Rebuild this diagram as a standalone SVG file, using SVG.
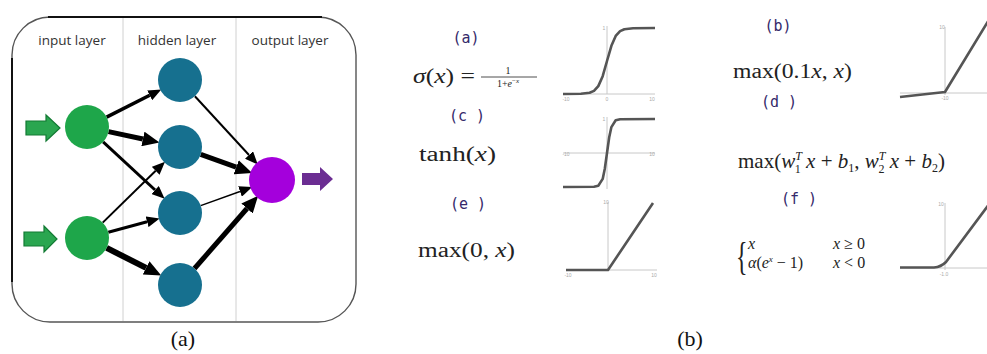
<svg xmlns="http://www.w3.org/2000/svg" width="987" height="354" viewBox="0 0 987 354">
<style>
.hdr{font-family:"Open Sans","Liberation Sans",sans-serif;font-size:13.5px;fill:#333;text-anchor:middle}
.cap{font-family:"Liberation Serif","DejaVu Serif",serif;font-size:22px;fill:#111;text-anchor:middle}
.lbl{font-family:"DejaVu Sans Mono","Liberation Mono",monospace;font-size:15px;fill:#35296a;text-anchor:middle}
.fm{font-family:"Liberation Serif","DejaVu Serif",serif;font-size:20px;fill:#222}
.it{font-style:italic}
.tk{font-family:"Liberation Sans",sans-serif;font-size:5px;fill:#aaa;text-anchor:middle}
.ax{stroke:#c8c8c8;stroke-width:1;fill:none}
.cv{stroke:#555;stroke-width:2.6;fill:none;stroke-linejoin:round}
.sep{stroke:#d0d0d0;stroke-width:1}
.e{stroke:#000;fill:none;stroke-linecap:butt}
.in{fill:#1ea64a}
.hd{fill:#16708f}
.out{fill:#a400dc}
</style>
<defs>
<marker id="ah" markerUnits="userSpaceOnUse" markerWidth="13" markerHeight="11" refX="0" refY="5.5" orient="auto"><path d="M0,0 L13,5.5 L0,11 z" fill="#000"/></marker>
<marker id="ahb" markerUnits="userSpaceOnUse" markerWidth="17" markerHeight="15" refX="0" refY="7.5" orient="auto"><path d="M0,0 L17,7.5 L0,15 z" fill="#000"/></marker>
</defs>
<rect width="987" height="354" fill="#fff"/>

<g id="panel-a">
<rect x="12" y="17" width="344" height="305" rx="38" fill="#fff" stroke="#555" stroke-width="1.4"/>
<line x1="48" y1="17" x2="322" y2="17" stroke="#111" stroke-width="2.2"/>
<line x1="12" y1="58" x2="12" y2="282" stroke="#111" stroke-width="2"/>
<line class="sep" x1="123" y1="18" x2="123" y2="321"/>
<line class="sep" x1="236" y1="18" x2="236" y2="321"/>
<text class="hdr" x="72" y="45">input layer</text>
<text class="hdr" x="177" y="45">hidden layer</text>
<text class="hdr" x="290" y="45">output layer</text>
</g>

<g id="connectors">
<line class="e" x1="106.6" y1="117.1" x2="149.7" y2="95.3" stroke-width="3.5" marker-end="url(#ah)"/>
<line class="e" x1="108.5" y1="131.6" x2="142.9" y2="139.0" stroke-width="5" marker-end="url(#ahb)"/>
<line class="e" x1="103.1" y1="141.9" x2="155.1" y2="190.0" stroke-width="3" marker-end="url(#ah)"/>
<line class="e" x1="102.7" y1="222.6" x2="155.7" y2="170.8" stroke-width="2" marker-end="url(#ah)"/>
<line class="e" x1="108.3" y1="232.3" x2="147.1" y2="221.8" stroke-width="3" marker-end="url(#ah)"/>
<line class="e" x1="106.6" y1="247.9" x2="146.1" y2="267.9" stroke-width="6" marker-end="url(#ahb)"/>
<line class="e" x1="194.9" y1="96.2" x2="249.0" y2="155.0" stroke-width="2" marker-end="url(#ah)"/>
<line class="e" x1="200.7" y1="154.4" x2="236.2" y2="167.2" stroke-width="5" marker-end="url(#ahb)"/>
<line class="e" x1="200.7" y1="205.6" x2="240.0" y2="191.5" stroke-width="1.5" marker-end="url(#ah)"/>
<line class="e" x1="194.5" y1="268.5" x2="247.0" y2="208.5" stroke-width="5" marker-end="url(#ahb)"/>
<polygon points="26,121 46,121 46,115 60,128 46,141 46,135 26,135" fill="#2aa650" stroke="#127a33" stroke-width="1.2"/>
<polygon points="24,232 44,232 44,226 57,239 44,252 44,246 24,246" fill="#2aa650" stroke="#127a33" stroke-width="1.2"/>
<polygon points="302,173 320,173 320,167 333,179 320,191 320,185 302,185" fill="#6b2d92"/>
</g>

<g id="node-in1"><circle class="in" cx="87" cy="127" r="22"/></g>
<g id="node-in2"><circle class="in" cx="87" cy="238" r="22"/></g>
<g id="node-h1"><circle class="hd" cx="180" cy="80" r="22"/></g>
<g id="node-h2"><circle class="hd" cx="180" cy="147" r="22"/></g>
<g id="node-h3"><circle class="hd" cx="180" cy="213" r="22"/></g>
<g id="node-h4"><circle class="hd" cx="180" cy="285" r="22"/></g>
<g id="node-out"><circle class="out" cx="272" cy="180" r="23"/></g>

<text class="cap" x="183" y="346">(a)</text>
<text class="cap" x="690" y="346">(b)</text>

<g id="sigmoid">
<text class="lbl" x="466" y="43">(a)</text>
<text class="fm" x="413" y="83" textLength="62" lengthAdjust="spacingAndGlyphs"><tspan class="it">σ</tspan>(<tspan class="it">x</tspan>) =</text>
<text class="fm" x="508" y="74" text-anchor="middle" style="font-size:10px">1</text>
<line x1="481" y1="77" x2="537" y2="77" stroke="#222" stroke-width="0.8"/>
<text class="fm" x="508" y="87" text-anchor="middle" style="font-size:10px">1+<tspan class="it">e</tspan><tspan dy="-4" style="font-size:7px">−<tspan class="it">x</tspan></tspan></text>
<line class="ax" x1="563" y1="94" x2="655" y2="94"/>
<line class="ax" x1="607" y1="26" x2="607" y2="94"/>
<path class="cv" d="M563,94 L580.9,93.8 L589.6,92.8 L594,90.9 L598.3,86.1 L602.7,76.2 L607,61 L611.4,45.8 L615.7,35.9 L620.1,31.1 L624.4,29.2 L633.1,28.2 L655,28"/>
<text class="tk" x="604" y="30">1</text>
<text class="tk" x="566" y="101">-10</text>
<text class="tk" x="607" y="101">0</text>
<text class="tk" x="652" y="101">10</text>
</g>

<g id="tanh">
<text class="lbl" x="467" y="121">(c )</text>
<text class="fm" x="419" y="161" textLength="77" lengthAdjust="spacingAndGlyphs">tanh(<tspan class="it">x</tspan>)</text>
<line class="ax" x1="563" y1="153" x2="655" y2="153"/>
<line class="ax" x1="607" y1="117" x2="607" y2="189"/>
<path class="cv" d="M563,187 L594,186.8 L598.3,185.8 L602.7,178.9 L604.8,168.7 L607,153 L609.2,137.3 L611.4,127.1 L615.7,120.2 L620.1,119.2 L655,119"/>
<text class="tk" x="604" y="121">1</text>
<text class="tk" x="566" y="156">-10</text>
<text class="tk" x="652" y="156">10</text>
</g>

<g id="relu">
<text class="lbl" x="468" y="209">(e )</text>
<text class="fm" x="418" y="257" textLength="97" lengthAdjust="spacingAndGlyphs">max(0, <tspan class="it">x</tspan>)</text>
<line class="ax" x1="566" y1="270" x2="657" y2="270"/>
<line class="ax" x1="608" y1="202" x2="608" y2="270"/>
<path class="cv" d="M566,270 L608,270 L653,203"/>
<text class="tk" x="606" y="204">10</text>
<text class="tk" x="568" y="277">-10</text>
<text class="tk" x="654" y="277">10</text>
</g>

<g id="leaky">
<text class="lbl" x="778" y="31">(b)</text>
<text class="fm" x="733" y="78" textLength="119" lengthAdjust="spacingAndGlyphs">max(0.1<tspan class="it">x</tspan>, <tspan class="it">x</tspan>)</text>
<line class="ax" x1="900" y1="93" x2="987" y2="93"/>
<line class="ax" x1="945" y1="27" x2="945" y2="95"/>
<path class="cv" d="M900,97 L945,92 L990,18"/>
<text class="tk" x="942" y="29">10</text>
<text class="tk" x="945" y="100">-10</text>
</g>

<g id="maxout">
<text class="lbl" x="779" y="107">(d )</text>
<text class="fm" x="738" y="168" style="font-size:21px">max(<tspan class="it">w</tspan><tspan class="it" dy="-8" style="font-size:12px">T</tspan><tspan dx="-7" dy="13" style="font-size:12px">1</tspan><tspan dy="-5"> <tspan class="it">x</tspan> + <tspan class="it">b</tspan></tspan><tspan dy="4" style="font-size:12px">1</tspan><tspan dy="-4">, <tspan class="it">w</tspan></tspan><tspan class="it" dy="-8" style="font-size:12px">T</tspan><tspan dx="-7" dy="13" style="font-size:12px">2</tspan><tspan dy="-5"> <tspan class="it">x</tspan> + <tspan class="it">b</tspan></tspan><tspan dy="4" style="font-size:12px">2</tspan><tspan dy="-4">)</tspan></text>
</g>

<g id="elu">
<text class="lbl" x="799" y="204">(f )</text>
<text class="fm" x="736" y="270" style="font-size:40px" transform="translate(736,270) scale(0.6,1) translate(-736,-270)">{</text>
<text class="fm" style="font-size:16px"><tspan class="it" x="748" y="249">x</tspan><tspan x="833" y="249"><tspan class="it">x</tspan> ≥ 0</tspan></text>
<text class="fm" style="font-size:16px"><tspan x="748" y="268"><tspan class="it">α</tspan>(<tspan class="it">e</tspan><tspan class="it" dy="-6" style="font-size:9px">x</tspan><tspan dy="6"> − 1)</tspan></tspan><tspan x="833" y="268"><tspan class="it">x</tspan> &lt; 0</tspan></text>
<line class="ax" x1="900" y1="268" x2="987" y2="268"/>
<line class="ax" x1="945" y1="203" x2="945" y2="270"/>
<path class="cv" d="M900,267.5 L934,267.5 Q941,267 946,262 L990,203"/>
<text class="tk" x="941" y="206">10</text>
<text class="tk" x="944" y="276">-1.0</text>
</g>
</svg>
